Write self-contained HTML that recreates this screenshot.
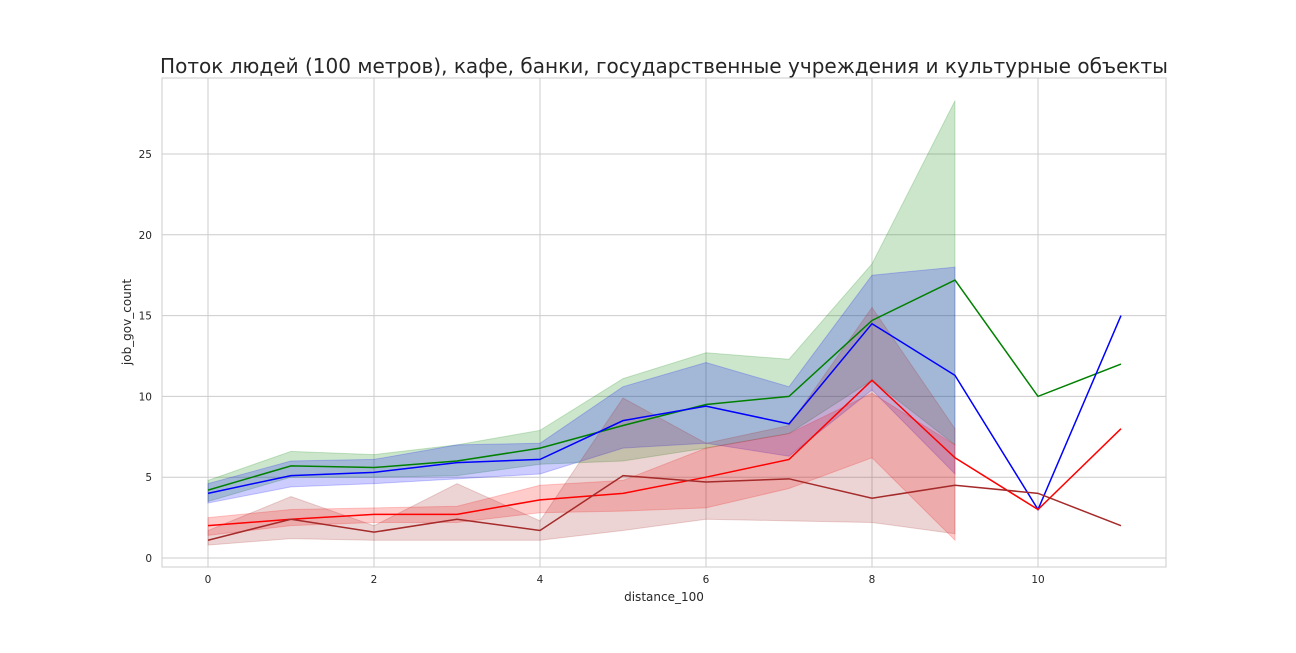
<!DOCTYPE html>
<html><head><meta charset="utf-8"><style>
body{margin:0;background:#fff}
svg text{font-family:"DejaVu Sans","Liberation Sans",sans-serif;fill:#262626}
</style></head><body>
<svg id="chart" width="1296" height="648" xmlns="http://www.w3.org/2000/svg">
<text x="160" y="73" font-size="20" textLength="1008" lengthAdjust="spacingAndGlyphs">Поток людей (100 метров), кафе, банки, государственные учреждения и культурные объекты</text>
<g id="grid"></g><g id="bands"></g><g id="lines"></g><g id="axes"></g>
<text x="664" y="601" font-size="12" text-anchor="middle">distance_100</text>
<text x="131" y="322" font-size="12" text-anchor="middle" transform="rotate(-90 131 322)">job_gov_count</text>
</svg>
<script>
const xCats=[0,1,2,3,4,5,6,7,8,9,10,11];
const xTicks=[0,2,4,6,8,10];
const yTicks=[0,5,10,15,20,25];
const greenMean=[4.2,5.7,5.6,6.0,6.8,8.2,9.5,10.0,14.7,17.2,10,12];
const greenHi=[4.8,6.6,6.4,7.0,7.9,11.1,12.7,12.3,18.2,28.3];
const greenLo=[3.5,5.0,5.0,5.1,5.8,6.0,6.8,7.7,11.0,7.0];
const blueMean=[4.0,5.1,5.3,5.9,6.1,8.5,9.4,8.3,14.5,11.3,3,15];
const blueHi=[4.6,6.0,6.1,7.0,7.1,10.6,12.1,10.6,17.5,18.0];
const blueLo=[3.4,4.4,4.6,4.9,5.2,6.8,7.1,6.3,10.4,5.2];
const redMean=[2.0,2.4,2.7,2.7,3.6,4.0,5.0,6.1,11.0,6.2,3,8];
const redHi=[2.5,3.0,3.1,3.2,4.5,4.8,6.8,7.7,10.2,7.0];
const redLo=[1.4,2.0,2.2,2.2,2.8,2.9,3.1,4.3,6.2,1.1];
const brownMean=[1.1,2.4,1.6,2.4,1.7,5.1,4.7,4.9,3.7,4.5,4.0,2.0];
const brownHi=[1.7,3.8,2.0,4.6,2.3,9.9,7.1,8.2,15.5,8.0];
const brownLo=[0.8,1.2,1.1,1.1,1.1,1.7,2.4,2.3,2.2,1.5];
const L=162,R=1166,T=78,B=567;
const X=v=>208+v*83, Y=v=>558-v*16.16;
const NS="http://www.w3.org/2000/svg";
function mk(t,p,a){const e=document.createElementNS(NS,t);for(const k in a)e.setAttribute(k,a[k]);p.appendChild(e);return e;}
const grid=document.getElementById('grid'),axes=document.getElementById('axes');
xTicks.forEach(t=>{const l=mk('line',grid,{x1:X(t),x2:X(t),y1:T,y2:B,stroke:'#cccccc','stroke-width':1});

const s=mk('text',axes,{x:X(t),y:B+16,'font-size':10.5,'text-anchor':'middle'});s.textContent=t;
});
yTicks.forEach(t=>{const l=mk('line',grid,{x1:L,x2:R,y1:Y(t),y2:Y(t),stroke:'#cccccc','stroke-width':1});

const s=mk('text',axes,{x:L-10,y:Y(t)+4,'font-size':10.5,'text-anchor':'end'});s.textContent=t;
});
const fr=mk('rect',axes,{x:L,y:T,width:R-L,height:B-T,fill:'none',stroke:'#cccccc','stroke-width':1});

const series=[['green','#008000',greenMean,greenHi,greenLo],['blue','#0000ff',blueMean,blueHi,blueLo],['red','#ff0000',redMean,redHi,redLo],['brown','#a52a2a',brownMean,brownHi,brownLo]];
const bands=document.getElementById('bands'),lines=document.getElementById('lines');
series.forEach(([n,c,m,hi,lo])=>{
let pts=hi.map((v,i)=>X(xCats[i])+','+Y(v)).concat(lo.map((v,i)=>X(xCats[i])+','+Y(v)).reverse());
const p=mk('polygon',bands,{points:pts.join(' '),fill:c,'fill-opacity':0.2,stroke:c,'stroke-opacity':0.2});

const l=mk('polyline',lines,{points:m.map((v,i)=>X(xCats[i])+','+Y(v)).join(' '),fill:'none',stroke:c,'stroke-width':1.5});
});
</script>
</body></html>
